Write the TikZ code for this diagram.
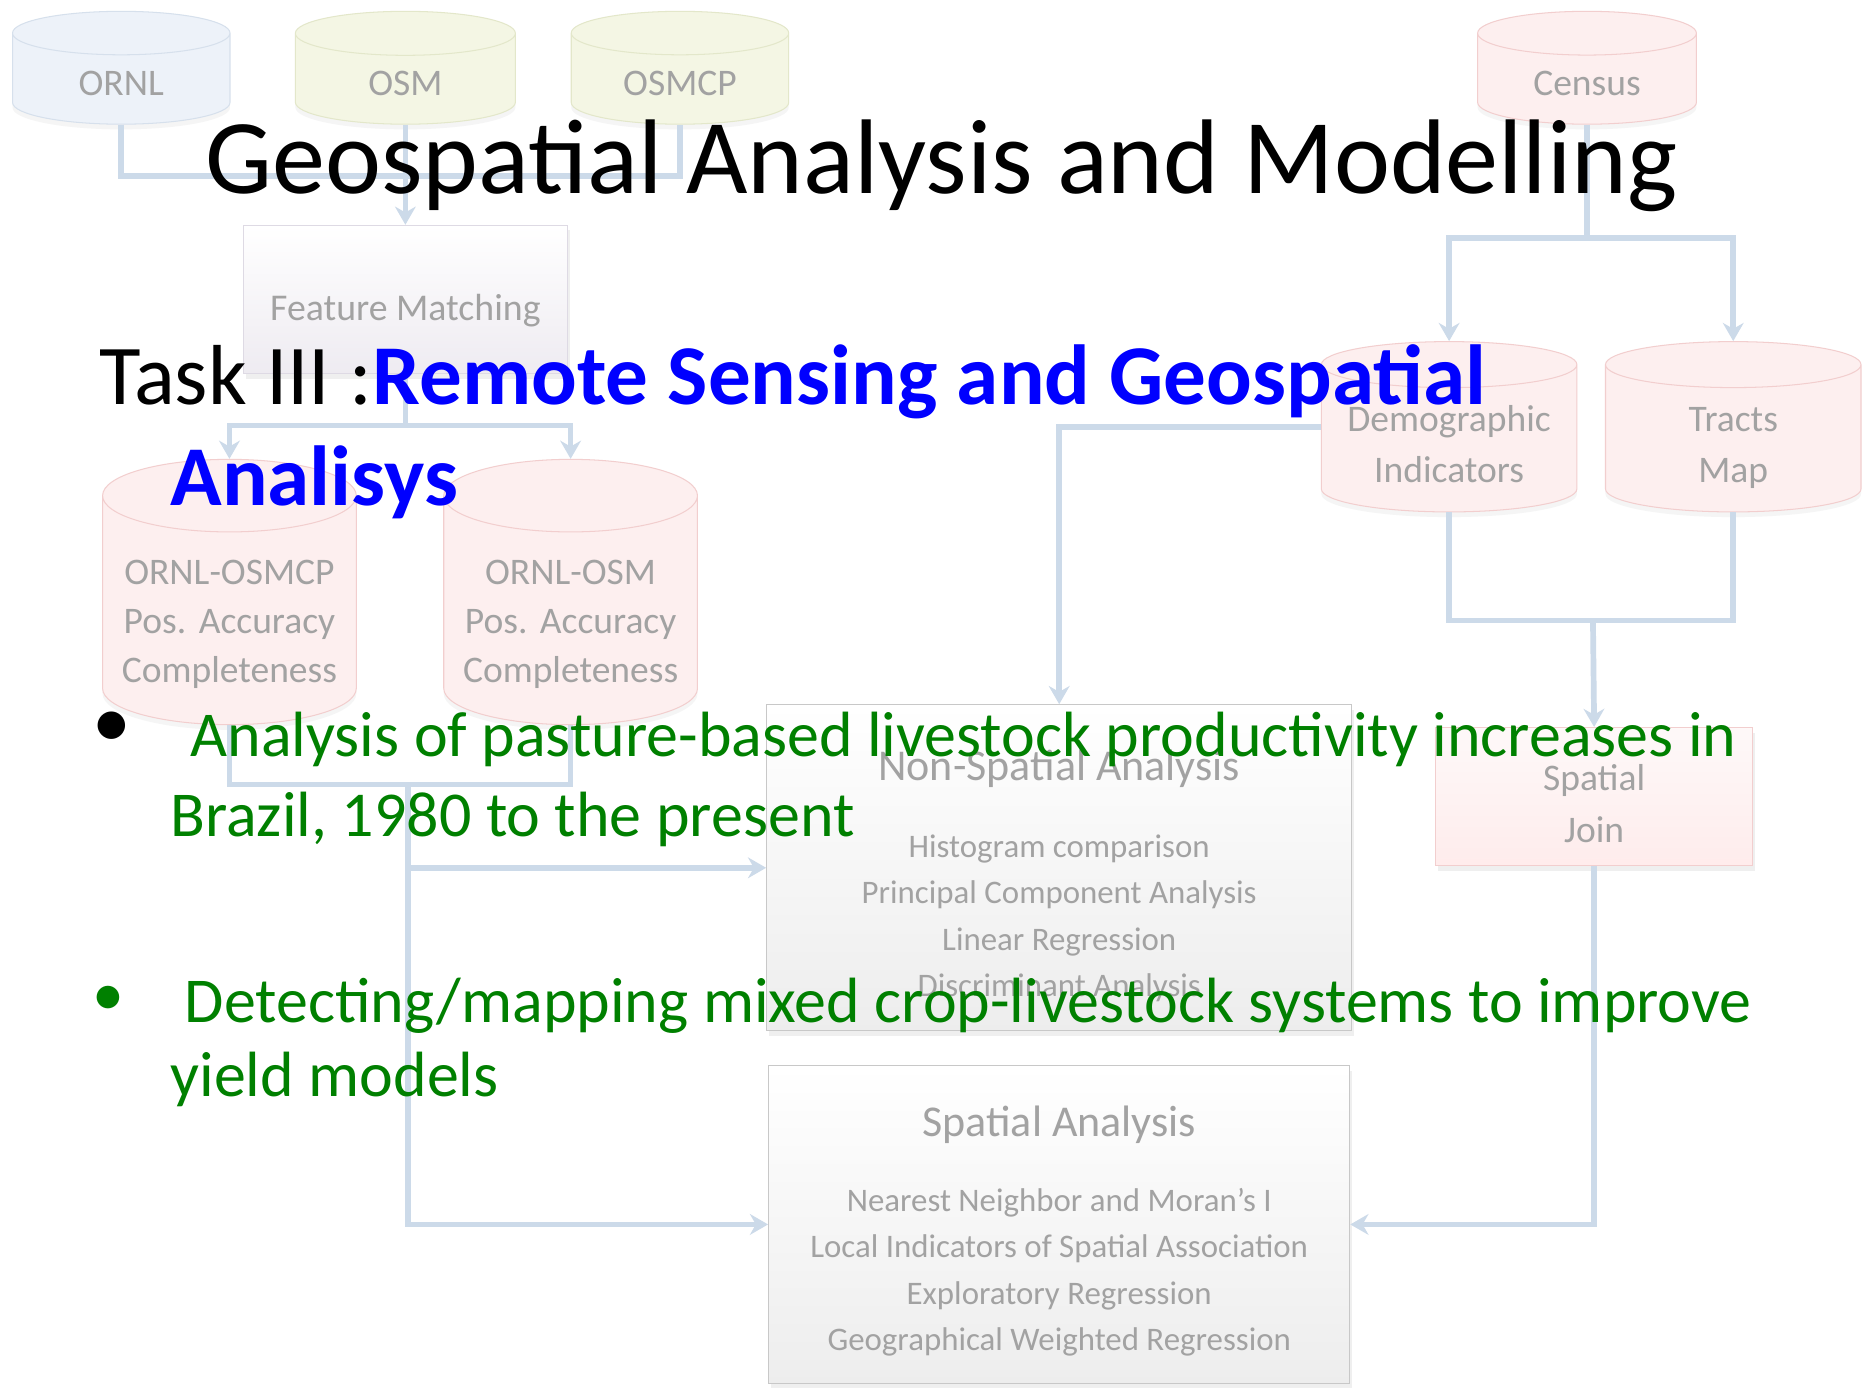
\documentclass[tikz,border=0pt]{standalone}
\usepackage{fontspec}
\setmainfont{Carlito}
\usetikzlibrary{shapes.geometric}
\usetikzlibrary{arrows.meta}
\usetikzlibrary{shadows}

\definecolor{linkblue}{HTML}{CCDAE9}
\definecolor{labelgray}{HTML}{A2A2A2}
\definecolor{bluefill}{HTML}{EDF2F9}
\definecolor{blueline}{HTML}{D6E0EC}
\definecolor{olivefill}{HTML}{F4F6E4}
\definecolor{oliveline}{HTML}{E3E7CA}
\definecolor{pinkfill}{HTML}{FDEFEF}
\definecolor{pinkline}{HTML}{F2CECE}
\definecolor{boxline}{HTML}{C8C8C8}
\definecolor{lavline}{HTML}{DEDAE4}
\definecolor{lavfill}{HTML}{EEEBF1}
\definecolor{taskblue}{HTML}{0000FF}
\definecolor{leafgreen}{HTML}{008000}

\begin{document}
\begin{tikzpicture}[x=0.45918pt, y=-0.45918pt]
  \tikzstyle{store}=[
      cylinder, shape border rotate = 90, aspect = 0.2
    , draw = pinkline, fill = pinkfill, text = labelgray
    , font = \fontsize{14.5}{19}\selectfont, align = center
    , inner sep = 0pt, anchor = shape center
    , text width = 84pt, minimum height = 43.6pt
    , drop shadow = {opacity = 0.08, shadow xshift = 0pt, shadow yshift = -2pt}
    ]
  \tikzstyle{result}=[
      store, aspect = 0.286, text width = 98pt
    , font = \fontsize{14.5}{18.8}\selectfont, minimum height = 100pt
    ]
  \tikzstyle{layer}=[
      store, aspect = 0.18, text width = 98.7pt
    , font = \fontsize{14.5}{20}\selectfont, minimum height = 65pt
    ]
  \tikzstyle{step box}=[
      rectangle, draw = boxline, text = labelgray
    , top color = white, bottom color = black!7
    , font = \fontsize{12.7}{17.9}\selectfont, align = center
    , drop shadow = {opacity = 0.12, shadow xshift = 1pt, shadow yshift = -2pt}
    ]
  \tikzstyle{link}=[draw = linkblue, line width = 2.2pt]
  \tikzstyle{flow}=[link, -{Stealth[length = 7pt, width = 8pt]}]
  \tikzstyle{slide}=[anchor = base west, inner sep = 0pt]

  \useasboundingbox[fill = white] (0,0) rectangle (1568,1167);

  % source databases
  \node[store, fill = bluefill, draw = blueline] (ornl) at (102,57) {\rule{0pt}{13pt}ORNL};
  \node[store, fill = olivefill, draw = oliveline, text width = 85pt] (osm) at (341,57)
      {\rule{0pt}{13pt}OSM};
  \node[store, fill = olivefill, draw = oliveline] (osmcp) at (572,57) {\rule{0pt}{13pt}OSMCP};
  \node[store, text width = 84.5pt] (census) at (1335,57) {\rule{0pt}{13pt}Census};

  \node[step box, draw = lavline, top color = white, bottom color = lavfill
      , font = \fontsize{14.6}{18}\selectfont
      , minimum width = 125pt, minimum height = 57.4pt] (match) at (341,252)
      {\rule{0pt}{18.3pt}Feature Matching};

  % accuracy results
  \node[result] (acccp) at (193,498)
      {\rule{0pt}{20.3pt}ORNL-OSMCP\\Pos.\ Accuracy\\Completeness};
  \node[result] (accosm) at (480,498)
      {\rule{0pt}{20.3pt}ORNL-OSM\\Pos.\ Accuracy\\Completeness};

  % census branch
  \node[layer] (demo) at (1219,359) {\rule{0pt}{16.6pt}Demographic\\Indicators\vphantom{p}};
  \node[layer] (tracts) at (1458,359) {\rule{0pt}{16.6pt}Tracts\\Map};
  \node[step box, draw = pinkline, top color = pinkfill!40, bottom color = pinkfill!80!red!30
      , font = \fontsize{14.5}{20}\selectfont
      , minimum width = 122.6pt, minimum height = 53.3pt] (join) at (1341,670)
      {\rule{0pt}{15.5pt}Spatial\\Join};

  % analysis boxes
  \node[step box, minimum width = 226pt, minimum height = 126pt] (nonspatial) at (891,730)
      {{\fontsize{17}{20}\selectfont\rule{0pt}{18pt}Non-Spatial Analysis}\\[12pt]
       Histogram comparison\\Principal Component Analysis\\
       Linear Regression\\Discriminant Analysis};
  \node[step box, minimum width = 224.5pt, minimum height = 122.6pt] (spatial) at (891,1030)
      {{\fontsize{17}{20}\selectfont\rule{0pt}{17pt}Spatial Analysis}\\[11pt]
       Nearest Neighbor and Moran’s I\\Local Indicators of Spatial Association\\
       Exploratory Regression\\Geographical Weighted Regression};

  \coordinate (mergeA) at (341,148);
  \coordinate (splitA) at (341,358);
  \coordinate (mergeB) at (343,660);
  \coordinate (splitB) at (1335,200);
  \coordinate (mergeC) at (1340,522);

  \path (ornl.south) edge [link, to path = {|- (mergeA) -| (\tikztotarget)}] (osmcp.south);
  \path (osm.south) edge [flow] (match.north);
  \draw[link] (match.south) -- (splitA);
  \draw[flow] (splitA) -| (acccp.north);
  \draw[flow] (splitA) -| (accosm.north);
  \draw[link] (acccp.south) |- (mergeB) -| (accosm.south);
  \draw[flow] (mergeB) |- (nonspatial.west);
  \draw[flow] (mergeB) |- (spatial.west);

  \draw[link] (census.south) -- (splitB);
  \draw[flow] (splitB) -| (demo.north);
  \draw[flow] (splitB) -| (tracts.north);
  \draw[flow] (demo.shape center -| demo.west) -| (nonspatial.north);
  \draw[link] (demo.south) |- (mergeC) -| (tracts.south);
  \draw[flow] (mergeC) -- (join.north);
  \draw[flow] (join.south) |- (spatial.east);

  % slide text
  \node[anchor = base, inner sep = 0pt, font = \fontsize{41}{49}\selectfont] (title)
      at (792,163) {Geospatial Analysis and Modelling};
  \node[slide, font = \fontsize{32.9}{39}\selectfont] (taskA) at (83,340)
      {Task III :\textcolor{taskblue}{\bfseries Remote Sensing and Geospatial}};
  \node[slide, font = \fontsize{32.9}{39}\selectfont, text = taskblue] (taskB) at (143,425)
      {\bfseries Analisys};

  \node[anchor = base, inner sep = 0pt, font = \fontsize{30}{30}\selectfont] (dotA)
      at (94,629) {•};
  \node[slide, font = \fontsize{24.7}{31}\selectfont, text = leafgreen] (pastureA) at (160,636)
      {Analysis of pasture-based livestock productivity increases in};
  \node[slide, font = \fontsize{24.7}{31}\selectfont, text = leafgreen] (pastureB) at (143,704)
      {Brazil, 1980 to the present};

  \node[anchor = base, inner sep = 0pt, font = \fontsize{24.7}{31}\selectfont
      , text = leafgreen] (dotB) at (91,854) {•};
  \node[slide, font = \fontsize{24.7}{31}\selectfont, text = leafgreen] (mixedA) at (155,860)
      {Detecting/mapping mixed crop-livestock systems to improve};
  \node[slide, font = \fontsize{24.7}{31}\selectfont, text = leafgreen] (mixedB) at (143,922)
      {yield models};

\end{tikzpicture}
\end{document}
